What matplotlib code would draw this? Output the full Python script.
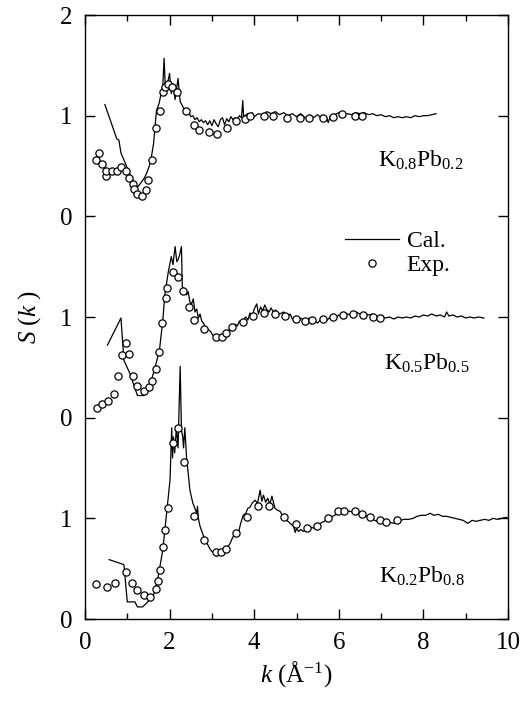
import matplotlib
matplotlib.use("Agg")
import matplotlib.pyplot as plt
from matplotlib.lines import Line2D

plt.rcParams["font.family"] = "Liberation Serif"
plt.rcParams["mathtext.fontset"] = "custom"
plt.rcParams["mathtext.rm"] = "Liberation Serif"
plt.rcParams["mathtext.it"] = "Liberation Serif:italic"

# ---- K0.8Pb0.2 (shifted by +4)
k_cal_a = [0.47, 0.62, 0.75, 0.80, 0.85, 0.95, 1.05, 1.15, 1.22, 1.30, 1.40, 1.46, 1.52, 1.57, 1.62,
           1.69, 1.75, 1.80, 1.84, 1.87, 1.90, 1.95, 2.00, 2.04, 2.08, 2.13, 2.17, 2.20, 2.25, 2.30,
           2.35, 2.40, 2.45, 2.50, 2.55, 2.60, 2.65, 2.70, 2.75, 2.80, 2.85, 2.90, 2.95, 3.00, 3.05,
           3.10, 3.15, 3.20, 3.25, 3.30, 3.35, 3.40, 3.45, 3.50, 3.55, 3.60, 3.65, 3.70, 3.73, 3.75,
           3.78, 3.85, 3.90, 3.95, 4.00, 4.1, 4.2, 4.3, 4.4, 4.5, 4.6, 4.7, 4.8, 4.9, 5.0, 5.1, 5.2,
           5.3, 5.4, 5.5, 5.6, 5.7, 5.75, 5.8, 5.9, 6.0, 6.1, 6.2, 6.3, 6.4, 6.5, 6.6, 6.7, 6.8, 6.9,
           7.0, 7.1, 7.2, 7.3, 7.4, 7.5, 7.6, 7.7, 7.8, 7.9, 8.0, 8.1, 8.2, 8.3]
s_cal_a = [1.11, 0.93, 0.77, 0.76, 0.63, 0.53, 0.43, 0.34, 0.28, 0.32, 0.38, 0.43, 0.50, 0.59, 0.72,
           1.05, 1.12, 1.22, 1.30, 1.57, 1.27, 1.32, 1.42, 1.22, 1.30, 1.16, 1.28, 1.37, 1.14, 1.10,
           1.06, 1.03, 1.04, 0.99, 1.00, 0.96, 0.98, 0.94, 0.96, 0.93, 0.95, 0.91, 0.95, 0.90, 0.96,
           0.92, 0.89, 0.96, 0.98, 0.91, 0.97, 0.94, 0.99, 0.96, 0.98, 0.96, 1.00, 0.98, 1.15, 0.99,
           1.00, 1.02, 1.00, 1.03, 0.99, 1.02, 1.01, 1.04, 1.02, 1.04, 1.01, 1.03, 1.00, 1.02, 0.99,
           1.02, 0.98, 1.00, 0.98, 1.01, 0.97, 0.99, 0.93, 1.00, 1.01, 1.03, 1.00, 1.02, 1.01, 1.03,
           1.02, 1.03, 1.01, 1.02, 1.00, 1.01, 0.99, 1.00, 0.98, 0.99, 0.98, 0.99, 0.98, 1.00, 0.99,
           1.00, 1.00, 1.01, 1.02]
k_exp_a = [0.27, 0.34, 0.41, 0.49, 0.50, 0.63, 0.75, 0.85, 0.97, 1.05, 1.13, 1.17, 1.24, 1.35, 1.44,
           1.48, 1.59, 1.69, 1.78, 1.85, 1.89, 1.97, 2.06, 2.17, 2.39, 2.58, 2.70, 2.93, 3.13, 3.36,
           3.57, 3.79, 3.90, 4.22, 4.45, 4.77, 5.08, 5.30, 5.62, 5.87, 6.08, 6.38, 6.56]
s_exp_a = [0.56, 0.63, 0.52, 0.40, 0.45, 0.45, 0.45, 0.49, 0.45, 0.38, 0.32, 0.27, 0.22, 0.20, 0.26,
           0.36, 0.56, 0.88, 1.05, 1.24, 1.28, 1.31, 1.28, 1.24, 1.05, 0.91, 0.86, 0.84, 0.82, 0.88,
           0.95, 0.97, 1.00, 1.00, 1.00, 0.98, 0.98, 0.98, 0.98, 0.99, 1.02, 1.00, 1.00]

# ---- K0.5Pb0.5 (shifted by +2)
k_cal_b = [0.53, 0.85, 0.92, 1.06, 1.15, 1.24, 1.39, 1.50, 1.65, 1.76, 1.84, 1.89, 1.97, 2.04, 2.08,
           2.13, 2.17, 2.20, 2.24, 2.28, 2.30, 2.35, 2.40, 2.44, 2.48, 2.52, 2.56, 2.60, 2.64, 2.68,
           2.72, 2.76, 2.80, 2.85, 2.90, 2.96, 3.02, 3.08, 3.13, 3.19, 3.25, 3.30, 3.35, 3.40, 3.45,
           3.50, 3.55, 3.60, 3.65, 3.70, 3.75, 3.80, 3.85, 3.90, 3.95, 4.00, 4.06, 4.10, 4.15, 4.20,
           4.25, 4.29, 4.35, 4.40, 4.45, 4.50, 4.6, 4.7, 4.77, 4.85, 4.9, 5.0, 5.05, 5.1, 5.2, 5.3,
           5.35, 5.4, 5.5, 5.6, 5.7, 5.8, 5.9, 6.0, 6.1, 6.2, 6.3, 6.4, 6.5, 6.6, 6.7, 6.8, 6.9, 7.0,
           7.1, 7.2, 7.3, 7.4, 7.5, 7.6, 7.7, 7.8, 7.9, 8.0, 8.1, 8.2, 8.3, 8.4, 8.5, 8.55, 8.6, 8.7,
           8.8, 8.9, 9.0, 9.1, 9.2, 9.3, 9.43]
s_cal_b = [0.72, 0.99, 0.57, 0.44, 0.33, 0.22, 0.22, 0.27, 0.49, 0.67, 0.97, 1.23, 1.45, 1.60, 1.52,
           1.70, 1.55, 1.57, 1.62, 1.70, 1.30, 1.28, 1.22, 1.25, 1.15, 1.13, 1.18, 1.05, 1.08, 0.99,
           1.03, 0.96, 0.94, 0.90, 0.88, 0.86, 0.82, 0.80, 0.79, 0.79, 0.82, 0.84, 0.85, 0.87, 0.90,
           0.88, 0.93, 0.91, 0.96, 0.94, 0.98, 1.00, 0.97, 1.04, 1.00, 1.08, 1.13, 1.03, 1.10, 1.06,
           1.12, 1.08, 1.05, 1.09, 1.05, 1.07, 1.03, 1.05, 1.00, 1.03, 0.98, 1.00, 0.95, 0.99, 0.96,
           0.99, 0.93, 0.97, 0.94, 0.99, 0.96, 1.00, 0.98, 1.02, 1.00, 1.03, 1.02, 1.05, 1.03, 1.04,
           1.02, 1.03, 1.00, 1.01, 0.99, 1.00, 0.98, 1.00, 0.99, 1.00, 0.99, 1.01, 1.00, 1.02, 1.01,
           1.03, 1.01, 1.02, 1.00, 1.05, 1.01, 1.02, 1.00, 1.01, 0.99, 1.00, 0.99, 1.00, 0.99]
k_exp_b = [0.28, 0.41, 0.55, 0.69, 0.79, 0.88, 0.96, 1.05, 1.14, 1.24, 1.39, 1.51, 1.59, 1.67, 1.75,
           1.81, 1.91, 1.93, 2.07, 2.19, 2.32, 2.47, 2.58, 2.82, 3.09, 3.23, 3.33, 3.47, 3.73, 3.96,
           4.24, 4.49, 4.73, 4.99, 5.21, 5.37, 5.63, 5.87, 6.10, 6.34, 6.57, 6.81, 6.97]
s_exp_b = [0.10, 0.14, 0.17, 0.24, 0.41, 0.62, 0.74, 0.63, 0.41, 0.31, 0.26, 0.30, 0.36, 0.48, 0.65,
           0.94, 1.19, 1.29, 1.45, 1.40, 1.26, 1.10, 0.97, 0.88, 0.80, 0.80, 0.84, 0.90, 0.95, 1.01,
           1.04, 1.03, 1.01, 0.98, 0.96, 0.97, 0.98, 1.00, 1.02, 1.03, 1.02, 1.00, 0.99]

# ---- K0.2Pb0.8 (no shift)
k_cal_c = [0.57, 0.92, 1.00, 1.18, 1.24, 1.36, 1.46, 1.53, 1.63, 1.73, 1.84, 1.93, 2.01, 2.05, 2.07,
           2.09, 2.12, 2.16, 2.20, 2.25, 2.28, 2.31, 2.33, 2.36, 2.40, 2.45, 2.48, 2.55, 2.58, 2.64,
           2.66, 2.68, 2.72, 2.78, 2.84, 2.90, 2.95, 3.00, 3.05, 3.11, 3.15, 3.20, 3.27, 3.33, 3.38,
           3.43, 3.48, 3.53, 3.58, 3.63, 3.68, 3.74, 3.80, 3.85, 3.90, 3.95, 4.02, 4.08, 4.14, 4.18,
           4.22, 4.27, 4.32, 4.37, 4.42, 4.49, 4.55, 4.61, 4.68, 4.77, 4.85, 4.93, 4.97, 5.00, 5.05,
           5.10, 5.16, 5.24, 5.30, 5.36, 5.42, 5.47, 5.53, 5.60, 5.66, 5.71, 5.80, 5.90, 5.99, 6.10,
           6.20, 6.26, 6.35, 6.42, 6.50, 6.60, 6.74, 6.85, 6.95, 7.09, 7.2, 7.3, 7.37, 7.45, 7.55,
           7.65, 7.76, 7.85, 7.95, 8.05, 8.16, 8.25, 8.35, 8.45, 8.55, 8.65, 8.75, 8.85, 8.94, 9.05,
           9.15, 9.25, 9.34, 9.45, 9.55, 9.65, 9.75, 9.85, 9.97]
s_cal_c = [0.59, 0.54, 0.17, 0.17, 0.12, 0.12, 0.16, 0.19, 0.25, 0.42, 0.69, 1.05, 1.38, 1.90, 1.60,
           1.81, 1.65, 1.90, 1.70, 2.51, 1.88, 1.81, 1.70, 1.90, 1.61, 1.40, 1.28, 1.15, 1.12, 1.05,
           1.12, 1.00, 0.92, 0.85, 0.78, 0.74, 0.70, 0.67, 0.66, 0.62, 0.66, 0.64, 0.67, 0.70, 0.72,
           0.75, 0.80, 0.84, 0.88, 0.86, 0.95, 1.03, 1.05, 1.10, 1.11, 1.15, 1.18, 1.15, 1.28, 1.17,
           1.23, 1.16, 1.20, 1.14, 1.22, 1.10, 1.08, 1.07, 1.02, 0.98, 0.95, 0.92, 0.86, 0.90, 0.87,
           0.89, 0.87, 0.88, 0.89, 0.91, 0.90, 0.93, 0.94, 0.96, 0.97, 0.98, 1.01, 1.03, 1.05, 1.06,
           1.07, 1.07, 1.06, 1.07, 1.05, 1.03, 1.00, 0.98, 0.96, 0.95, 0.96, 0.95, 0.97, 0.98, 0.99,
           0.99, 1.00, 1.02, 1.03, 1.03, 1.05, 1.03, 1.04, 1.02, 1.02, 1.01, 1.00, 0.99, 0.98, 0.95,
           0.98, 0.97, 0.98, 0.99, 0.98, 1.00, 0.99, 1.00, 1.01]
k_exp_c = [0.26, 0.51, 0.71, 0.97, 1.10, 1.24, 1.39, 1.54, 1.67, 1.73, 1.78, 1.84, 1.90, 1.97, 2.09,
           2.20, 2.34, 2.58, 2.81, 3.09, 3.22, 3.33, 3.57, 3.84, 4.10, 4.36, 4.71, 4.99, 5.24, 5.48,
           5.75, 5.99, 6.12, 6.38, 6.56, 6.74, 6.97, 7.12, 7.37]
s_exp_c = [0.35, 0.32, 0.36, 0.47, 0.36, 0.29, 0.24, 0.22, 0.30, 0.38, 0.49, 0.72, 0.88, 1.10, 1.75,
           1.90, 1.56, 1.02, 0.78, 0.67, 0.67, 0.70, 0.85, 1.01, 1.12, 1.12, 1.01, 0.94, 0.90, 0.92,
           1.00, 1.07, 1.07, 1.07, 1.04, 1.01, 0.98, 0.96, 0.98]

names = [r"$\mathrm{K_{0.8}Pb_{0.2}}$", r"$\mathrm{K_{0.5}Pb_{0.5}}$", r"$\mathrm{K_{0.2}Pb_{0.8}}$"]
offsets = [4, 2, 0]
y_ticks = [0, 1, 2, 3, 4, 5, 6]
y_ticklabels = ["0", "1", "0", "1", "0", "1", "2"]

cal = [(k_cal_a, s_cal_a), (k_cal_b, s_cal_b), (k_cal_c, s_cal_c)]
exp = [(k_exp_a, s_exp_a), (k_exp_b, s_exp_b), (k_exp_c, s_exp_c)]
label_pos = [(6.93, 4.56), (7.07, 2.54), (6.95, 0.42)]

fig = plt.figure(figsize=(5.24, 7.08), dpi=100)
ax = fig.add_axes([0.1622, 0.1257, 0.8073, 0.8531])

for (kc, sc), (ke, se), off, name, pos in zip(cal, exp, offsets, names, label_pos):
    ax.plot(kc, [v + off for v in sc], color="black", lw=0.9)
    ax.plot(ke, [v + off for v in se], ls="none", marker="o", ms=5.2,
            mfc="white", mec="black", mew=0.9)
    ax.text(pos[0], pos[1], name, fontsize=17, va="center", ha="left")

ax.set_xlim(0, 10)
ax.set_ylim(0, 6)
ax.set_xticks([0, 2, 4, 6, 8, 10])
ax.set_xticks([1, 3, 5, 7, 9], minor=True)
ax.set_yticks(y_ticks)
ax.set_yticklabels(y_ticklabels)
ax.tick_params(which="both", direction="in", top=True, right=True, labelsize=18)
ax.tick_params(which="major", length=7, width=1)
ax.tick_params(which="minor", length=4, width=1)
ax.tick_params(axis="y", pad=9)
ax.tick_params(axis="x", pad=9)
for sp in ax.spines.values():
    sp.set_linewidth(1.0)

ax.set_xlabel(r"$k$ (Å$^{-1}$)", fontsize=18, labelpad=4)
ax.set_ylabel(r"$S$ ($k$ )", fontsize=18, labelpad=12)

handles = [Line2D([], [], color="black", lw=0.9),
           Line2D([], [], ls="none", marker="o", ms=5.2, mfc="white", mec="black", mew=0.9)]
ax.legend(handles, ["Cal.", "Exp."], loc="upper left", bbox_to_anchor=(6.15, 3.86),
          bbox_transform=ax.transData, frameon=False, fontsize=17, handlelength=2.3,
          handletextpad=0.3, labelspacing=0.12, borderpad=0, borderaxespad=0)

fig.savefig("out.png", dpi=100)
